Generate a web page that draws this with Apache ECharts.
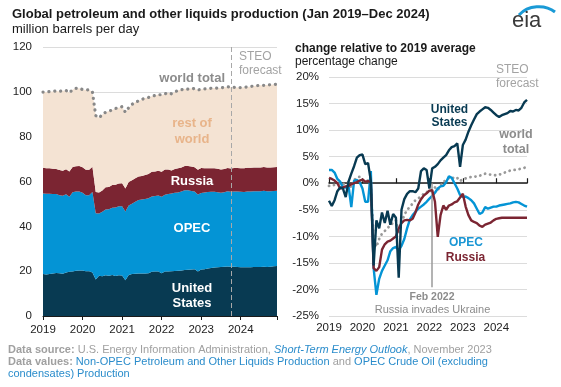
<!DOCTYPE html>
<html><head><meta charset="utf-8">
<script src="https://cdn.jsdelivr.net/npm/echarts@6/dist/echarts.min.js"></script>
<style>html,body{margin:0;padding:0;background:#fff}#c{width:561px;height:387px}</style>
</head><body><div id="c"></div>
<script>
// Monthly values, Jan 2019 (index 0) ... Dec 2024 (index 71)
const years = ['2019','2020','2021','2022','2023','2024'];
const monthNames = ['Jan','Feb','Mar','Apr','May','Jun','Jul','Aug','Sep','Oct','Nov','Dec'];

// Left panel: million barrels per day
const usLevel = [18.7,18.5,18.7,19.0,19.2,19.1,18.8,19.4,19.7,19.9,20.2,20.3,
20.3,20.0,20.0,19.4,16.3,18.0,17.7,18.2,17.9,18.3,17.8,18.2,
18.1,15.9,18.3,18.7,18.9,19.0,19.0,19.0,19.1,19.7,19.8,19.8,
19.1,19.8,19.9,20.0,20.1,20.2,20.3,20.5,20.6,20.7,20.8,19.9,
20.7,20.9,21.2,21.4,21.6,21.8,21.9,22.0,22.1,22.0,22.0,21.9,
21.8,21.7,21.8,21.8,21.9,21.9,21.9,22.0,21.9,22.0,22.2,22.3];
const opecLevel = [36.0,36.0,35.8,35.4,35.2,34.8,34.8,34.9,33.5,35.3,35.3,35.2,
34.7,33.9,33.9,35.9,29.5,27.7,28.8,29.3,29.7,30.0,30.6,30.8,
30.9,30.7,31.0,31.4,32.1,32.7,33.0,33.2,33.4,33.6,33.7,33.9,
34.1,34.3,34.5,34.7,34.9,34.9,35.2,35.6,35.5,35.1,34.7,34.3,
34.2,34.2,34.1,34.0,33.8,33.4,33.1,33.2,33.5,33.4,33.5,33.6,
33.6,33.6,33.7,33.7,33.7,33.8,33.8,33.9,33.8,33.7,33.6,33.6];
const russiaLevel = [11.4,11.4,11.4,11.3,11.2,11.2,11.2,11.2,11.3,11.3,11.3,11.4,
11.4,11.3,11.3,11.3,9.5,9.4,9.5,9.9,10.0,10.1,10.1,10.1,
10.2,10.3,10.5,10.5,10.5,10.5,10.5,10.7,10.8,11.0,11.0,11.1,
11.1,11.2,10.9,10.2,10.6,10.8,10.7,10.8,10.8,10.9,10.9,11.0,
11.1,10.8,10.6,10.5,10.5,10.5,10.4,10.4,10.4,10.4,10.5,10.5,
10.5,10.6,10.6,10.6,10.6,10.6,10.6,10.6,10.6,10.6,10.6,10.6];
const restLevel = [33.8,34.0,34.2,34.5,34.8,35.1,35.7,35.1,35.1,34.5,34.7,34.7,
34.6,35.6,35.7,33.3,34.1,33.3,33.9,33.5,33.8,33.5,34.1,33.8,
34.2,34.0,33.1,33.8,33.9,33.7,34.1,34.3,34.2,33.7,33.9,34.0,
34.3,33.8,34.3,34.2,34.3,34.8,34.7,34.5,34.3,34.9,35.0,35.6,
35.2,35.4,35.5,35.7,35.8,35.9,36.4,36.4,36.2,36.3,36.0,35.9,
36.0,36.1,36.1,36.3,36.4,36.5,36.6,36.4,36.7,36.9,36.9,36.9];
const worldLevel = [99.9,99.9,100.1,100.2,100.4,100.2,100.5,100.6,99.6,101.0,101.5,101.6,
101.0,100.8,100.9,99.9,89.4,88.4,89.9,90.9,91.4,91.9,92.6,92.9,
93.4,90.9,92.9,94.4,95.4,95.9,96.6,97.2,97.5,98.0,98.4,98.8,
98.6,99.1,99.6,99.1,99.9,100.7,100.9,101.4,101.2,101.6,101.4,100.8,
101.2,101.3,101.4,101.6,101.7,101.6,101.8,102.0,102.2,102.1,102.0,101.9,
101.9,102.0,102.2,102.4,102.6,102.8,102.9,102.9,103.0,103.2,103.3,103.4];

// Right panel: % change relative to 2019 average
const usPct = [-3.3,-4.3,-3.2,-1.5,-0.8,-1.0,-2.6,0.3,1.8,3.2,4.8,5.3,
5.4,3.6,3.8,0.5,-15.5,-7.0,-8.5,-5.5,-7.5,-5.2,-7.8,-5.8,
-6.5,-17.8,-5.0,-3.0,-2.0,-1.5,-1.5,-1.7,-1.0,2.3,2.8,2.5,
-1.0,2.8,3.1,3.6,4.3,4.8,5.3,6.2,6.8,7.0,7.5,3.1,
7.2,8.2,9.7,10.9,12.0,13.0,13.5,13.9,14.3,14.2,13.8,13.3,
12.8,12.5,12.8,13.0,13.2,13.6,13.5,13.8,13.7,14.2,15.2,15.7];
const opecPct = [2.5,2.5,2.0,0.8,0.3,-0.8,-0.8,-0.5,-4.5,0.5,0.6,0.2,
-1.0,-3.5,-3.5,2.3,-16.0,-21.0,-18.0,-16.5,-15.5,-14.5,-12.8,-12.2,
-12.0,-12.6,-11.8,-10.5,-8.5,-6.8,-6.0,-5.4,-4.8,-4.4,-4.0,-3.5,
-2.9,-2.4,-1.8,-1.0,-0.6,-0.5,0.2,1.3,1.0,0.0,-1.0,-2.2,
-2.6,-2.5,-2.8,-3.2,-3.8,-4.8,-5.8,-5.5,-4.5,-4.8,-4.6,-4.4,
-4.4,-4.2,-4.1,-4.0,-3.9,-3.8,-3.6,-3.5,-3.6,-3.9,-4.2,-4.4];
const russiaPct = [1.0,0.8,0.5,0.0,-1.0,-0.8,-0.6,-0.5,-0.2,0.0,0.2,0.5,
0.7,0.3,0.4,0.2,-16.0,-16.5,-15.8,-12.5,-11.5,-11.0,-10.8,-10.4,
-10.0,-8.5,-7.5,-7.0,-6.9,-7.0,-6.7,-5.5,-4.0,-3.0,-2.3,-1.9,
-1.4,-1.3,-3.5,-10.1,-6.0,-4.2,-5.0,-4.2,-4.0,-3.6,-3.4,-2.7,
-2.0,-4.4,-6.0,-7.0,-7.3,-7.5,-8.0,-8.2,-7.8,-7.6,-7.4,-7.0,
-6.7,-6.6,-6.5,-6.5,-6.5,-6.5,-6.5,-6.5,-6.5,-6.5,-6.5,-6.5];
const worldPct = [-0.5,-0.5,-0.3,-0.2,0.0,-0.2,0.1,0.2,-0.8,0.6,1.1,1.2,
0.6,0.4,0.5,-0.5,-11.0,-12.0,-10.5,-9.5,-9.0,-8.5,-7.8,-7.5,
-7.0,-9.5,-7.5,-6.0,-5.0,-4.5,-3.8,-3.2,-2.9,-2.4,-2.0,-1.6,
-1.8,-1.3,-0.8,-1.3,-0.5,0.3,0.5,1.0,0.8,1.2,1.0,0.4,
0.8,0.9,1.0,1.2,1.3,1.2,1.4,1.6,1.8,1.7,1.6,1.5,
1.5,1.6,1.8,2.0,2.2,2.4,2.5,2.5,2.6,2.8,2.9,3.0];

const invasionMonth = 37;      // Feb 2022
const forecastLeft = 57.3;     // STEO forecast divider (month index)
const forecastRight = 58.4;

const months = years.flatMap(y => monthNames.map(m => m + ' ' + y));

const F = '"Liberation Sans", Arial, sans-serif';
const C = { us:'#083a52', opec:'#0494d5', russia:'#7b2532', rest:'#f4e3d3', restTxt:'#e8b48a', gray:'#8c8c8c', steo:'#a3a3a3' };
const pairs = a => a.map((v, i) => [i, v]);
const yearFmt = v => (v % 12 === 0 && v / 12 < years.length) ? years[v / 12] : '';

const chart = echarts.init(document.getElementById('c'));

function txt(x, y, s, o) {
  o = o || {};
  return { type:'text', x:x, y:y, silent:true, z:50,
    style: { text:s, font:(o.w||'normal') + ' ' + (o.s||12) + 'px ' + F, fill:o.c||'#1a1a1a',
      textAlign:o.a||'left', align:o.a||'left', textVerticalAlign:'middle', verticalAlign:'middle' } };
}
function rich(x, y, s) {
  return { type:'text', x:x, y:y, silent:true,
    style: { text:s, textVerticalAlign:'middle', verticalAlign:'middle', font:'11px ' + F, fill:'#a0a0a0',
      rich: {
        g:{ fontFamily:F, fontSize:11, fill:'#a0a0a0', color:'#a0a0a0' },
        bg:{ fontFamily:F, fontSize:11, fill:'#a0a0a0', color:'#a0a0a0', fontWeight:'bold' },
        b:{ fontFamily:F, fontSize:11, fill:'#2a8ccb', color:'#2a8ccb' },
        bi:{ fontFamily:F, fontSize:11, fill:'#2a8ccb', color:'#2a8ccb', fontStyle:'italic' }
      } } };
}

const areaSeries = (name, data, color) => ({
  name, type:'line', xAxisIndex:0, yAxisIndex:0, stack:'prod', data:data,
  symbol:'none', smooth:false, lineStyle:{ width:0 }, areaStyle:{ color, opacity:1 }, z:2, silent:true
});

const option = {
  animation:false,
  textStyle:{ fontFamily:F },
  grid:[
    { left:43, right:284, top:47, bottom:71 },
    { left:329, right:34, top:77, bottom:71 }
  ],
  xAxis:[
    { gridIndex:0, type:'category', data:months, boundaryGap:false,
      axisLine:{ show:true, lineStyle:{ color:'#1a1a1a', width:1 } },
      axisTick:{ show:true, length:4, interval:i => i % 12 === 0 || i === months.length - 1, lineStyle:{ color:'#1a1a1a' } },
      axisLabel:{ interval:i => i % 12 === 0, formatter:(v, i) => years[Math.floor(i / 12)],
        color:'#222', fontSize:11.5, margin:8, fontFamily:F },
      splitLine:{ show:false } },
    { gridIndex:1, type:'value', min:0, max:71, interval:12, position:'bottom',
      axisLine:{ show:false, onZero:false }, axisTick:{ show:false },
      axisLabel:{ formatter:yearFmt, color:'#222', fontSize:11.5, margin:6, fontFamily:F },
      splitLine:{ show:false } },
    { gridIndex:1, type:'value', min:0, max:71, interval:12, position:'top',
      axisLine:{ show:true, onZero:true, lineStyle:{ color:'#1a1a1a', width:1.5 } },
      axisTick:{ show:true, length:5, lineStyle:{ color:'#1a1a1a', width:1.2 } },
      axisLabel:{ show:false }, splitLine:{ show:false } }
  ],
  yAxis:[
    { gridIndex:0, type:'value', min:0, max:120, interval:20,
      axisLine:{ show:false }, axisTick:{ show:false },
      axisLabel:{ color:'#222', fontSize:11.5, margin:11, fontFamily:F },
      splitLine:{ show:true, lineStyle:{ color:'#dcdcdc', width:1 } } },
    { gridIndex:1, type:'value', min:-25, max:20, interval:5,
      axisLine:{ show:false }, axisTick:{ show:false },
      axisLabel:{ color:'#222', fontSize:11.5, margin:10, fontFamily:F, formatter:v => v + '%' },
      splitLine:{ show:true, lineStyle:{ color:'#dcdcdc', width:1 } } }
  ],
  series:[
    areaSeries('United States', usLevel, C.us),
    areaSeries('OPEC', opecLevel, C.opec),
    areaSeries('Russia', russiaLevel, C.russia),
    Object.assign(areaSeries('rest of world', restLevel, C.rest), {
      markLine:{ silent:true, symbol:'none', label:{ show:false },
        lineStyle:{ color:'#a8a8a8', width:1, type:[5,3] },
        data:[[ { coord:[forecastLeft, 120] }, { coord:[forecastLeft, 0] } ]] } }),
    { name:'world total', type:'line', xAxisIndex:0, yAxisIndex:0, data:worldLevel,
      symbol:'none', z:5, silent:true,
      lineStyle:{ color:'#888888', width:3.2, type:[0.1,5.8], cap:'round' } },

    { name:'world total %', type:'line', xAxisIndex:1, yAxisIndex:1, data:pairs(worldPct),
      symbol:'none', z:3, silent:true,
      lineStyle:{ color:'#999999', width:2.8, type:[0.1,5], cap:'round' },
      markLine:{ silent:true, symbol:'none', label:{ show:false },
        lineStyle:{ color:'#a8a8a8', width:1, type:[5,3] },
        data:[[ { coord:[forecastRight, 22] }, { coord:[forecastRight, -25] } ]] } },
    { name:'OPEC %', type:'line', xAxisIndex:1, yAxisIndex:1, data:pairs(opecPct),
      symbol:'none', z:4, silent:true, lineStyle:{ color:C.opec, width:2.4 } },
    { name:'Russia %', type:'line', xAxisIndex:1, yAxisIndex:1, data:pairs(russiaPct),
      symbol:'none', z:5, silent:true, lineStyle:{ color:C.russia, width:2.4 },
      markLine:{ silent:true, symbol:'none', label:{ show:false },
        lineStyle:{ color:'#9a9a9a', width:1.5, type:'solid' },
        data:[[ { coord:[invasionMonth, 0] }, { coord:[invasionMonth, -19.6] } ]] } },
    { name:'United States %', type:'line', xAxisIndex:1, yAxisIndex:1, data:pairs(usPct),
      symbol:'none', z:6, silent:true, lineStyle:{ color:C.us, width:2.4 } }
  ],
  graphic:[
    txt(12, 14.5, 'Global petroleum and other liquids production (Jan 2019\u2013Dec 2024)', { w:'bold', s:13 }),
    txt(12, 29, 'million barrels per day', { s:13 }),
    txt(295, 48.5, 'change relative to 2019 average', { w:'bold', s:12 }),
    txt(295, 61.5, 'percentage change', { s:12 }),
    txt(239, 56.7, 'STEO', { s:12, c:C.steo }),
    txt(239, 70.5, 'forecast', { s:12, c:C.steo }),
    txt(496, 70, 'STEO', { s:12, c:C.steo }),
    txt(496, 83.5, 'forecast', { s:12, c:C.steo }),
    txt(225, 78, 'world total', { w:'bold', s:13, c:C.gray, a:'right' }),
    txt(192, 123, 'rest of', { w:'bold', s:13, c:C.restTxt, a:'center' }),
    txt(192, 139.5, 'world', { w:'bold', s:13, c:C.restTxt, a:'center' }),
    txt(192, 181, 'Russia', { w:'bold', s:13, c:'#fff', a:'center' }),
    txt(192, 228, 'OPEC', { w:'bold', s:13, c:'#fff', a:'center' }),
    txt(192, 288, 'United', { w:'bold', s:13, c:'#fff', a:'center' }),
    txt(192, 303.7, 'States', { w:'bold', s:13, c:'#fff', a:'center' }),
    txt(449.5, 110, 'United', { w:'bold', s:12, c:C.us, a:'center' }),
    txt(449.5, 123, 'States', { w:'bold', s:12, c:C.us, a:'center' }),
    txt(516, 134.5, 'world', { w:'bold', s:12.5, c:C.gray, a:'center' }),
    txt(516, 150, 'total', { w:'bold', s:12.5, c:C.gray, a:'center' }),
    txt(466, 243, 'OPEC', { w:'bold', s:12, c:'#1a96d4', a:'center' }),
    txt(465.5, 257.7, 'Russia', { w:'bold', s:12, c:C.russia, a:'center' }),
    txt(432, 297.3, 'Feb 2022', { w:'bold', s:10.5, c:C.gray, a:'center' }),
    txt(432.5, 310, 'Russia invades Ukraine', { s:11, c:C.gray, a:'center' }),
    // eia logo
    { type:'bezierCurve', silent:true, shape:{ x1:519, y1:15, cpx1:528, cpy1:5, cpx2:545, cpy2:4, x2:555, y2:12 },
      style:{ stroke:'#1a9ad6', lineWidth:3, fill:null } },
    { type:'text', x:512, y:32, silent:true,
      style:{ text:'eia', font:'22px ' + F, fill:'#3a3a3a', textVerticalAlign:'bottom', verticalAlign:'bottom' } },
    rich(8, 350, '{bg|Data source:}{g| U.S. Energy Information Administration, }{bi|Short-Term Energy Outlook}{g|, November 2023}'),
    rich(8, 362, '{bg|Data values: }{b|Non-OPEC Petroleum and Other Liquids Production}{g| and }{b|OPEC Crude Oil (excluding}'),
    rich(8, 374, '{b|condensates) Production}')
  ]
};
chart.setOption(option);
</script></body></html>
